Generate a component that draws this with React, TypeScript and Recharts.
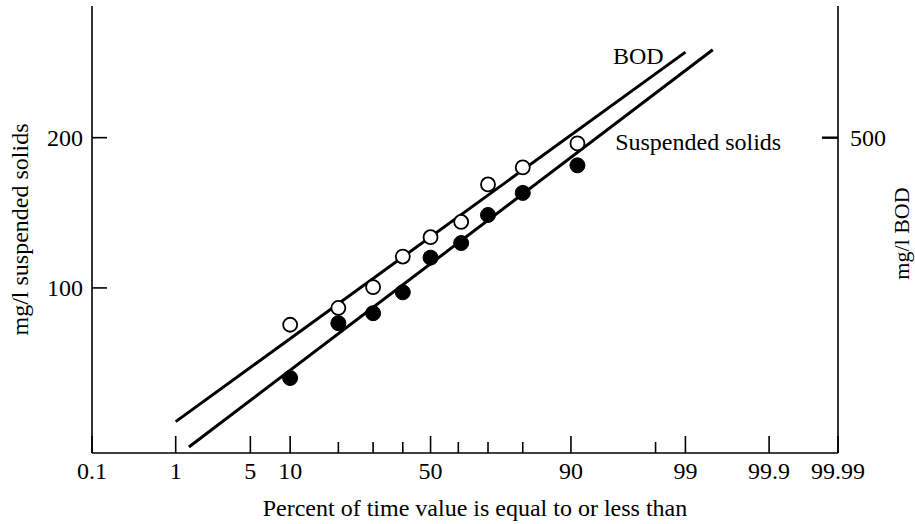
import React from 'react';
import { ScatterChart, Scatter, XAxis, YAxis, ReferenceDot, Label } from 'recharts';

// ---- data ----
const percentTime = [10, 20, 30, 40, 50, 61, 70, 80, 91];
const bodValues = [211, 228, 251, 289, 316, 339, 403, 436, 487];
const ssValues = [66, 85, 89, 98, 115, 123, 140, 155, 176];

const bodFitPercent = [1, 99];
const bodFitValues = [135, 742];
const ssFitPercent = [1.37, 99.5];
const ssFitValues = [48, 300];

const xTickPercents = [0.1, 1, 5, 10, 20, 30, 40, 50, 60, 70, 80, 90, 98, 99, 99.9, 99.99];
const xTickLabels = ['0.1', '1', '5', '10', '', '', '', '50', '', '', '', '90', '', '99', '99.9', '99.99'];
const ssTicks = [100, 200];
const bodTicks = [500];
const ssDomain = [46.7, 367.1];
const bodDomain = [116.8, 917.8];

const annotationTexts = ['BOD', 'Suspended solids'];
const annotationPercents = [95.2, 95.4];
const annotationSS = [281, 189];

const FONT = '"Liberation Serif", "Times New Roman", serif';
const FS = 24;

// inverse of the standard normal CDF (probability-paper scale)
function probit(p: number): number {
  const a = [-3.969683028665376e1, 2.209460984245205e2, -2.759285104469687e2, 1.38357751867269e2, -3.066479806614716e1, 2.506628277459239];
  const b = [-5.447609879822406e1, 1.615858368580409e2, -1.556989798598866e2, 6.680131188771972e1, -1.328068155288572e1];
  const c = [-7.784894002430293e-3, -3.223964580411365e-1, -2.400758277161838, -2.549732539343734, 4.374664141464968, 2.938163982698783];
  const d = [7.784695709041462e-3, 3.224671290700398e-1, 2.445134137142996, 3.754408661907416];
  const pLow = 0.02425;
  if (p < pLow) {
    const q = Math.sqrt(-2 * Math.log(p));
    return (((((c[0] * q + c[1]) * q + c[2]) * q + c[3]) * q + c[4]) * q + c[5]) / ((((d[0] * q + d[1]) * q + d[2]) * q + d[3]) * q + 1);
  }
  if (p <= 1 - pLow) {
    const q = p - 0.5;
    const r = q * q;
    return ((((((a[0] * r + a[1]) * r + a[2]) * r + a[3]) * r + a[4]) * r + a[5]) * q) / (((((b[0] * r + b[1]) * r + b[2]) * r + b[3]) * r + b[4]) * r + 1);
  }
  const q = Math.sqrt(-2 * Math.log(1 - p));
  return -(((((c[0] * q + c[1]) * q + c[2]) * q + c[3]) * q + c[4]) * q + c[5]) / ((((d[0] * q + d[1]) * q + d[2]) * q + d[3]) * q + 1);
}

const pz = (percent: number) => probit(percent / 100);

const bodPoints = percentTime.map((p, i) => ({ x: pz(p), y: bodValues[i] }));
const ssPoints = percentTime.map((p, i) => ({ x: pz(p), y: ssValues[i] }));
const bodFit = bodFitPercent.map((p, i) => ({ x: pz(p), y: bodFitValues[i] }));
const ssFit = ssFitPercent.map((p, i) => ({ x: pz(p), y: ssFitValues[i] }));
const xTicks = xTickPercents.map(pz);

const XTick = (props: any) => {
  const { x, y, payload } = props;
  const idx = xTicks.findIndex((t) => Math.abs(t - payload.value) < 1e-9);
  const label = idx >= 0 ? xTickLabels[idx] : '';
  const major = label !== '';
  return (
    <g>
      <line x1={x} y1={y} x2={x} y2={y - (major ? 17 : 11)} stroke="#000" strokeWidth={1.6} />
      {major && (
        <text x={x} y={y + 26} textAnchor="middle" fontFamily={FONT} fontSize={FS} fill="#000">
          {label}
        </text>
      )}
    </g>
  );
};

const LeftTick = (props: any) => {
  const { x, y, payload } = props;
  return (
    <g>
      <line x1={x} y1={y} x2={x + 15} y2={y} stroke="#000" strokeWidth={1.6} />
      <text x={x - 9} y={y + 8} textAnchor="end" fontFamily={FONT} fontSize={FS} fill="#000">
        {payload.value}
      </text>
    </g>
  );
};

const RightTick = (props: any) => {
  const { x, y, payload } = props;
  return (
    <g>
      <line x1={x} y1={y} x2={x - 16} y2={y} stroke="#000" strokeWidth={2.4} />
      <text x={x + 12} y={y + 8} textAnchor="start" fontFamily={FONT} fontSize={FS} fill="#000">
        {payload.value}
      </text>
    </g>
  );
};

const LeftTitle = (props: any) => {
  const vb = props.viewBox;
  const cx = vb.x + 28;
  const cy = vb.y + vb.height / 2;
  return (
    <text x={cx} y={cy} transform={`rotate(-90 ${cx} ${cy})`} textAnchor="middle" fontFamily={FONT} fontSize={FS} fill="#000">
      mg/l suspended solids
    </text>
  );
};

const RightTitle = (props: any) => {
  const vb = props.viewBox;
  const cx = vb.x + 71;
  const cy = vb.y + vb.height / 2 + 4;
  return (
    <text x={cx} y={cy} transform={`rotate(-90 ${cx} ${cy})`} textAnchor="middle" fontFamily={FONT} fontSize={22} fill="#000">
      mg/l BOD
    </text>
  );
};

const BottomTitle = (props: any) => {
  const vb = props.viewBox;
  return (
    <text x={vb.x + vb.width / 2 + 10} y={vb.y + 63} textAnchor="middle" fontFamily={FONT} fontSize={FS} fill="#000">
      Percent of time value is equal to or less than
    </text>
  );
};

const makeAnnotation = (text: string) => (props: any) => {
  const vb = props.viewBox;
  return (
    <text x={vb.x} y={vb.y} textAnchor="start" fontFamily={FONT} fontSize={FS} fill="#000">
      {text}
    </text>
  );
};

const OpenCircle = (props: any) => (
  <circle cx={props.cx} cy={props.cy} r={7} fill="#fff" stroke="#000" strokeWidth={1.8} />
);
const FilledCircle = (props: any) => (
  <circle cx={props.cx} cy={props.cy} r={7.5} fill="#000" stroke="#000" strokeWidth={1} />
);
const NoShape = () => <g />;

export default function App() {
  return (
    <div style={{ position: 'absolute', left: 0, top: 0, width: 915, height: 524, background: '#fff' }}>
      <ScatterChart width={915} height={524} margin={{ top: 6, right: 17, bottom: 21, left: 0 }}>
        <XAxis
          type="number"
          dataKey="x"
          xAxisId="p"
          domain={[pz(0.1), pz(99.99)]}
          ticks={xTicks}
          interval={0}
          allowDataOverflow
          tick={XTick}
          tickLine={false}
          tickSize={0}
          tickMargin={0}
          height={50}
          axisLine={{ stroke: '#000', strokeWidth: 1.6 }}
        >
          <Label content={BottomTitle} />
        </XAxis>
        <YAxis
          yAxisId="ss"
          type="number"
          dataKey="y"
          scale="log"
          orientation="left"
          domain={ssDomain}
          ticks={ssTicks}
          interval={0}
          allowDataOverflow
          tick={LeftTick}
          tickLine={false}
          tickSize={0}
          tickMargin={0}
          width={92}
          axisLine={{ stroke: '#000', strokeWidth: 1.6 }}
        >
          <Label content={LeftTitle} />
        </YAxis>
        <YAxis
          yAxisId="bod"
          type="number"
          dataKey="y"
          scale="log"
          orientation="right"
          domain={bodDomain}
          ticks={bodTicks}
          interval={0}
          allowDataOverflow
          tick={RightTick}
          tickLine={false}
          tickSize={0}
          tickMargin={0}
          width={60}
          axisLine={{ stroke: '#000', strokeWidth: 1.6 }}
        >
          <Label content={RightTitle} />
        </YAxis>

        <Scatter name="BOD fit" data={bodFit} xAxisId="p" yAxisId="bod" line={{ stroke: '#000', strokeWidth: 3 }} shape={NoShape} isAnimationActive={false} />
        <Scatter name="SS fit" data={ssFit} xAxisId="p" yAxisId="ss" line={{ stroke: '#000', strokeWidth: 3 }} shape={NoShape} isAnimationActive={false} />
        <Scatter name="BOD" data={bodPoints} xAxisId="p" yAxisId="bod" shape={OpenCircle} isAnimationActive={false} />
        <Scatter name="Suspended solids" data={ssPoints} xAxisId="p" yAxisId="ss" shape={FilledCircle} isAnimationActive={false} />

        {annotationTexts.map((t, i) => (
          <ReferenceDot
            key={t}
            xAxisId="p"
            yAxisId="ss"
            x={pz(annotationPercents[i])}
            y={annotationSS[i]}
            r={0}
            stroke="none"
            fill="none"
            ifOverflow="visible"
            label={makeAnnotation(t)}
          />
        ))}
      </ScatterChart>
    </div>
  );
}
